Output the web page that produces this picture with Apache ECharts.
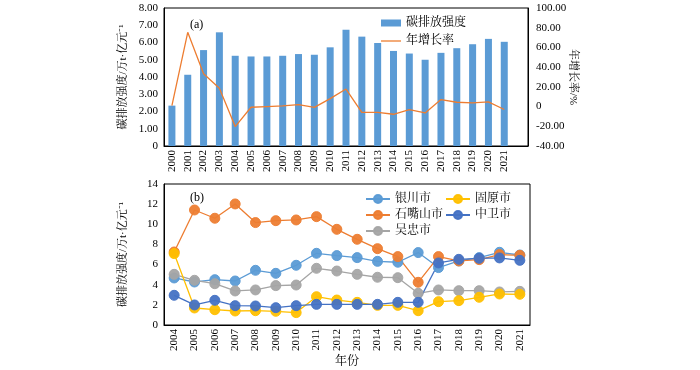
<!DOCTYPE html>
<html><head><meta charset="utf-8">
<script src="https://cdn.jsdelivr.net/npm/echarts@6/dist/echarts.min.js"></script>
<style>html,body{margin:0;padding:0;background:#fff}#c{width:700px;height:370px}</style>
</head><body><div id="c"></div>
<script>
const yearsA = ['2000','2001','2002','2003','2004','2005','2006','2007','2008','2009','2010','2011','2012','2013','2014','2015','2016','2017','2018','2019','2020','2021',''];
const intensity = [2.34,4.13,5.56,6.59,5.23,5.19,5.19,5.23,5.33,5.29,5.72,6.74,6.34,5.97,5.51,5.36,5.0,5.4,5.67,5.9,6.21,6.04];
const growth = [1,75.3,33.2,18.6,-20.3,-0.7,0,0.7,1.9,-0.8,8.1,17.8,-5.9,-5.8,-7.8,-3.2,-6.4,7.1,4.4,3.7,4.7,-3.0];
const yearsB = ['2004','2005','2006','2007','2008','2009','2010','2011','2012','2013','2014','2015','2016','2017','2018','2019','2020','2021'];
const yinchuan = [4.67,4.27,4.5,4.37,5.43,5.13,5.93,7.12,6.89,6.69,6.32,6.23,7.19,5.7,6.36,6.69,7.22,6.95];
const shizuishan = [7.25,11.42,10.6,12.02,10.17,10.36,10.43,10.76,9.5,8.51,7.58,6.79,4.24,6.79,6.36,6.49,6.99,6.92];
const wuzhong = [5.03,4.44,4.1,3.38,3.48,3.91,3.97,5.63,5.36,5.03,4.74,4.7,3.15,3.48,3.41,3.41,3.28,3.34];
const guyuan = [7.09,1.69,1.52,1.39,1.42,1.36,1.23,2.81,2.48,2.25,1.95,1.95,1.42,2.32,2.42,2.75,3.08,3.05];
const zhongwei = [2.95,1.99,2.45,1.92,1.89,1.72,1.92,2.05,2.05,2.05,2.05,2.25,2.25,6.16,6.52,6.62,6.66,6.42];
const seriesNamesB = ['银川市','石嘴山市','吴忠市','固原市','中卫市'];
const colorsB = ['#5B9BD5','#ED7D31','#A5A5A5','#FFC000','#4472C4'];

const FF = "'Times New Roman','Liberation Serif','Noto Serif CJK SC','Noto Sans CJK SC',serif";
const txt = {color:'#000', fontFamily:FF, fontSize:11};
const chart = echarts.init(document.getElementById('c'), null, {renderer:'canvas'});
const dataB = [yinchuan, shizuishan, wuzhong, guyuan, zhongwei];

const bSeries = seriesNamesB.map((n,i)=>({
  name:n, type:'line', xAxisIndex:1, yAxisIndex:2, data:dataB[i],
  symbol:'circle', symbolSize:10, color:colorsB[i],
  lineStyle:{width:1.3, color:colorsB[i]},
  itemStyle:{color:colorsB[i], borderColor:colorsB[i], borderWidth:1, opacity:0.95},
  emphasis:{disabled:true}
}));

chart.setOption({
  animation:false,
  textStyle:txt,
  title:[
    {text:'(a)', left:185, top:14, textStyle:{...txt, fontWeight:'normal', fontSize:12}},
    {text:'(b)', left:185, top:187, textStyle:{...txt, fontWeight:'normal', fontSize:12}}
  ],
  legend:[
    {data:[{name:'碳排放强度', icon:'rect'},{name:'年增长率', icon:'path://M0,4.5L20,4.5L20,5.8L0,5.8Z'}], orient:'vertical', left:376, top:12,
     itemWidth:20, itemHeight:7, itemGap:6, textStyle:{...txt, fontSize:12}},
    {data:['银川市','石嘴山市','吴忠市'], orient:'vertical', left:360, top:188,
     itemWidth:24, itemHeight:10, itemGap:4, textStyle:{...txt, fontSize:12}},
    {data:['固原市','中卫市'], orient:'vertical', left:440, top:188,
     itemWidth:24, itemHeight:10, itemGap:4, textStyle:{...txt, fontSize:12}}
  ],
  grid:[
    {left:164, right:172, top:8, bottom:224, show:true, borderColor:'#000', borderWidth:1, backgroundColor:'transparent'},
    {left:164, right:170, top:184, bottom:45, show:true, borderColor:'#000', borderWidth:1, backgroundColor:'transparent'}
  ],
  xAxis:[
    {type:'category', gridIndex:0, data:yearsA, boundaryGap:true,
     axisLine:{onZero:false, lineStyle:{color:'#000'}},
     axisTick:{inside:true, length:3, interval:0, lineStyle:{color:'#000'}},
     axisLabel:{...txt, rotate:90, interval:0, margin:4}},
    {type:'category', gridIndex:1, data:yearsB, boundaryGap:true,
     name:'年份', nameLocation:'middle', nameGap:31, nameMoveOverlap:false, nameTextStyle:{...txt, fontSize:12},
     axisLine:{onZero:false, lineStyle:{color:'#000'}},
     axisTick:{inside:true, length:3, interval:0, lineStyle:{color:'#000'}},
     axisLabel:{...txt, rotate:90, interval:0, margin:4}}
  ],
  yAxis:[
    {type:'value', gridIndex:0, min:0, max:8, interval:1,
     name:'碳排放强度/万t·亿元⁻¹', nameLocation:'middle', nameGap:35, nameMoveOverlap:false, nameRotate:90, nameTextStyle:{...txt},
     axisLine:{show:true, lineStyle:{color:'#000'}}, axisTick:{show:false}, splitLine:{show:false},
     axisLabel:{...txt, margin:6, formatter:v=>v===0?'0':v.toFixed(2)}},
    {type:'value', gridIndex:0, position:'right', min:-40, max:100, interval:20,
     name:'年增长率/%', nameLocation:'middle', nameGap:39, nameMoveOverlap:false, nameRotate:-90, nameTextStyle:{...txt},
     axisLine:{show:true, lineStyle:{color:'#000'}}, axisTick:{show:false}, splitLine:{show:false},
     axisLabel:{...txt, margin:8, formatter:v=>v===0?'0':v.toFixed(2)}},
    {type:'value', gridIndex:1, min:0, max:14, interval:2,
     name:'碳排放强度/万t·亿元⁻¹', nameLocation:'middle', nameGap:35, nameMoveOverlap:false, nameRotate:90, nameTextStyle:{...txt},
     axisLine:{show:true, lineStyle:{color:'#000'}}, axisTick:{show:false}, splitLine:{show:false},
     axisLabel:{...txt, margin:6}}
  ],
  series:[
    {name:'碳排放强度', type:'bar', xAxisIndex:0, yAxisIndex:0, data:intensity, barWidth:7,
     itemStyle:{color:'#5B9BD5'}, emphasis:{disabled:true}},
    {name:'年增长率', type:'line', xAxisIndex:0, yAxisIndex:1, data:growth, symbol:'none', showSymbol:false, symbolSize:0,
     color:'#ED7D31', itemStyle:{color:'#ED7D31'}, lineStyle:{width:1.3, color:'#ED7D31'}, emphasis:{disabled:true}},
    ...bSeries
  ]
});
</script></body></html>
